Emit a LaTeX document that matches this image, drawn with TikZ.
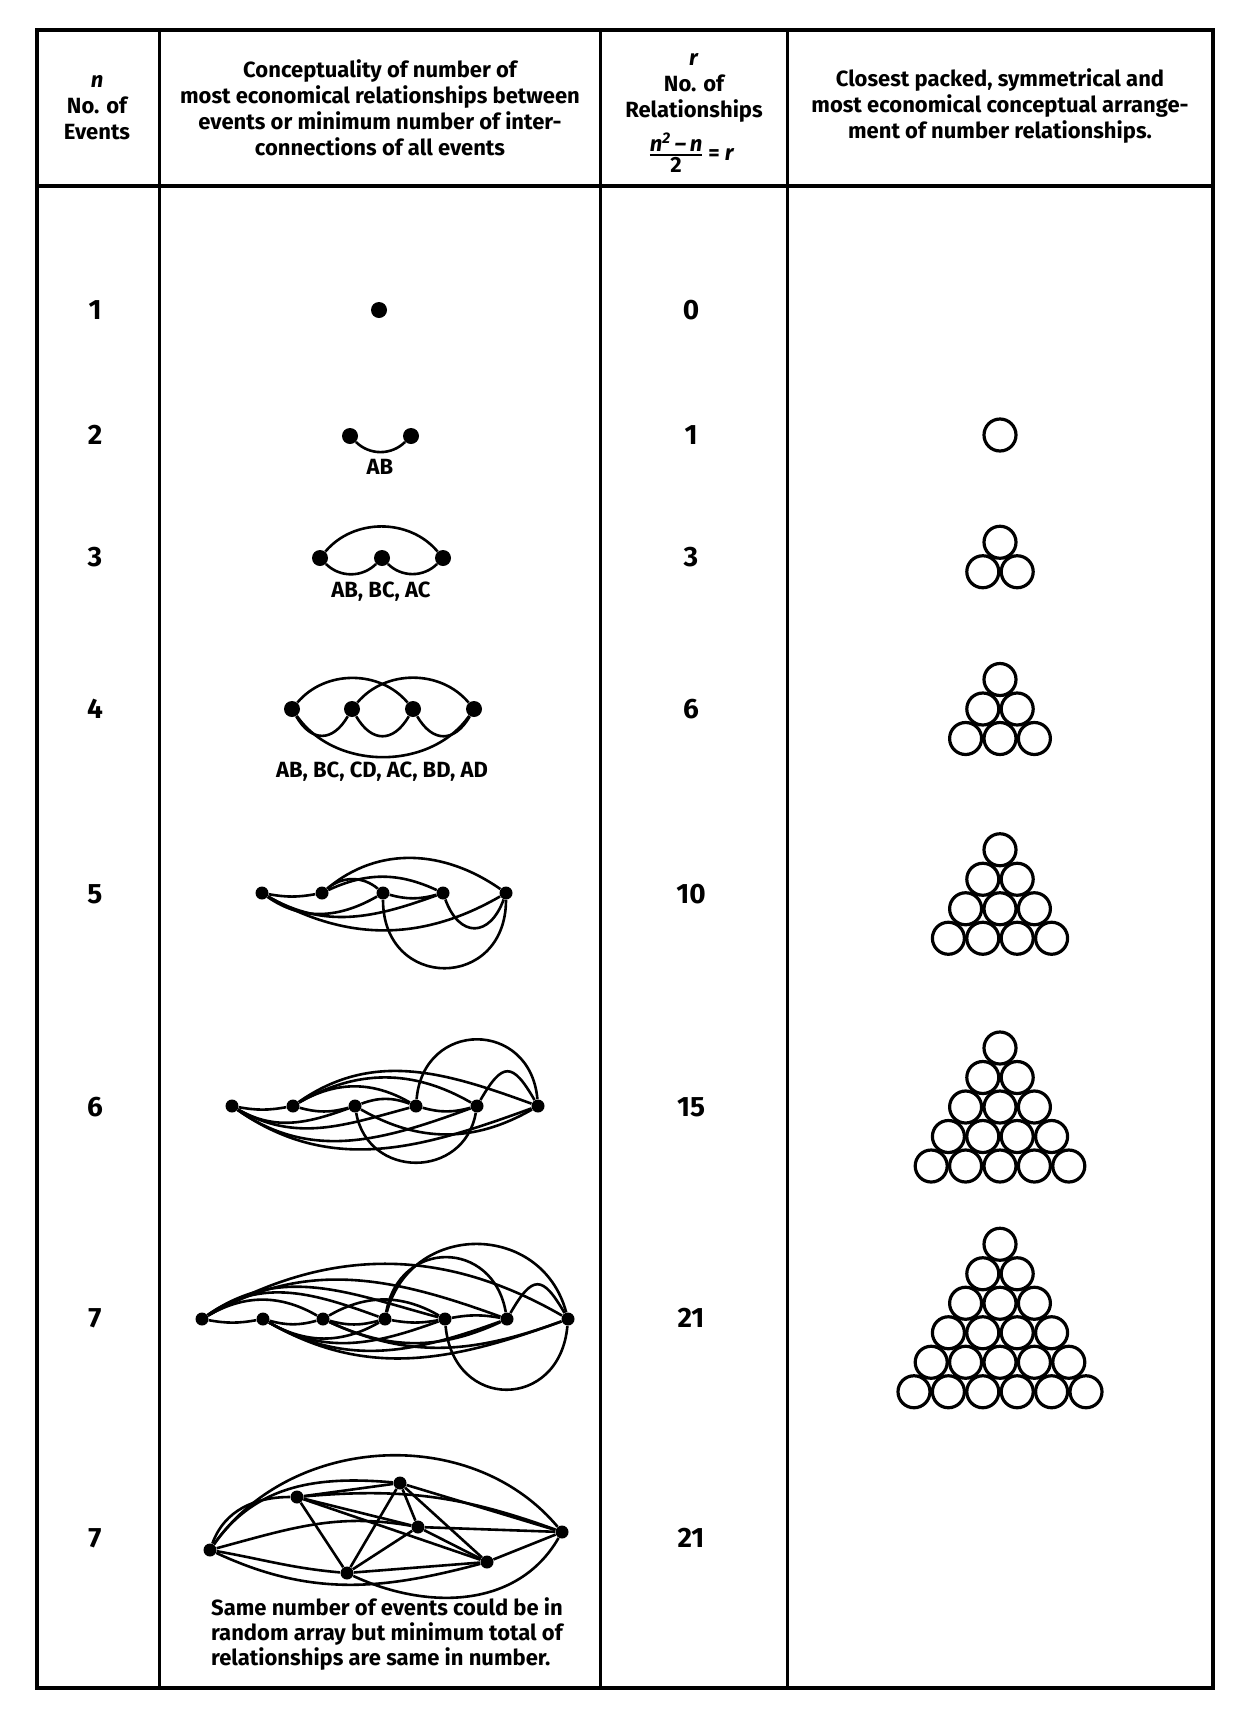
\documentclass[tikz,border=0pt]{standalone}
\usepackage{fontspec}
\setmainfont{Fira Sans}
\begin{document}
\begin{tikzpicture}
[x=0.5pt,y=0.5pt,
  eventdecorate/.style={shape=circle,fill,inner sep=0pt,minimum size=8pt},%
  smalleventdecorate/.style={shape=circle,fill,inner sep=0pt,minimum size=6.5pt},%
  linedecorate/.style={-,line width=1.3pt},%
  balldecorate/.style={shape=circle,draw,line width=1.6pt,inner sep=0pt,minimum size=16pt},%
  headdecorate/.style={font=\bfseries\fontsize{11}{13}\selectfont,align=center},%
  numdecorate/.style={font=\bfseries\fontsize{14}{17}\selectfont},%
  labeldecorate/.style={font=\bfseries\fontsize{11}{13}\selectfont},%
  notedecorate/.style={font=\bfseries\fontsize{11}{12.3}\selectfont,align=left}]
\useasboundingbox (0,0) rectangle (1234,-1719);
%%% table frame
\draw[line width=2pt] (37,-30) rectangle (1213,-1688);
\draw[line width=2pt] (37,-186) -- (1213,-186);
\draw[line width=1.5pt] (159,-30) -- (159,-1688);
\draw[line width=1.5pt] (600,-30) -- (600,-1688);
\draw[line width=1.5pt] (787,-30) -- (787,-1688);
%%% column heads
\node (h1) at (97,-108) [headdecorate] {\textit{n}\\No. of\\Events};
\node (h2) at (380,-108) [headdecorate] {Conceptuality of number of\\most economical relationships between\\events or minimum number of inter-\\connections of all events};
\node (h3) at (694,-88) [headdecorate] {\textit{r}\\No. of\\Relationships};
\node (h3f) at (691,-153) [headdecorate] {${\mbox{\itshape n\textsuperscript{2}\,--\,n}\above 1pt\mbox{2}}$\,= \textit{r}};
\node (h4) at (1000,-106) [headdecorate] {Closest packed, symmetrical and\\most economical conceptual arrange-\\ment of number relationships.};
%%% number of events n
\node (n1) at (95,-310) [numdecorate] {1};
\node (n2) at (95,-435) [numdecorate] {2};
\node (n3) at (95,-557) [numdecorate] {3};
\node (n4) at (95,-709) [numdecorate] {4};
\node (n5) at (95,-894) [numdecorate] {5};
\node (n6) at (95,-1107) [numdecorate] {6};
\node (n7) at (95,-1318) [numdecorate] {7};
\node (n8) at (95,-1538) [numdecorate] {7};
%%% number of relationships r
\node (r1) at (691,-310) [numdecorate] {0};
\node (r2) at (691,-435) [numdecorate] {1};
\node (r3) at (691,-557) [numdecorate] {3};
\node (r4) at (691,-709) [numdecorate] {6};
\node (r5) at (691,-894) [numdecorate] {10};
\node (r6) at (691,-1107) [numdecorate] {15};
\node (r7) at (691,-1318) [numdecorate] {21};
\node (r8) at (691,-1538) [numdecorate] {21};
%
%%% one event
\node (a) at (379,-310) [eventdecorate] {};
%
%%% two events
% nodes or events
\node (a) at (350,-436) [eventdecorate] {};
\node (b) at (411,-436) [eventdecorate] {};
% relationships
\path
(a) edge[linedecorate,out=-45,in=-135] (b);
\node (l2) at (380,-467) [labeldecorate] {AB};
%
%%% three events
% nodes or events
\node (a) at (320,-558) [eventdecorate] {};
\node (b) at (382,-558) [eventdecorate] {};
\node (c) at (443,-558) [eventdecorate] {};
% relationships
\path
(a) edge[linedecorate,out=-45,in=-135] (b)
(b) edge[linedecorate,out=-45,in=-135] (c)
(a) edge[linedecorate,out=50,in=130] (c);
\node (l3) at (381,-592) [labeldecorate] {AB, BC, AC};
%
%%% four events
% nodes or events
\node (a) at (292,-709) [eventdecorate] {};
\node (b) at (352,-709) [eventdecorate] {};
\node (c) at (413,-709) [eventdecorate] {};
\node (d) at (474,-709) [eventdecorate] {};
% relationships
\path
(a) edge[linedecorate,out=-60,in=-120,looseness=1.5] (b)
(b) edge[linedecorate,out=-60,in=-120,looseness=1.5] (c)
(c) edge[linedecorate,out=-60,in=-120,looseness=1.5] (d)
(a) edge[linedecorate,out=50,in=130] (c)
(b) edge[linedecorate,out=50,in=130] (d)
(a) edge[linedecorate,out=-55,in=-125] (d);
\node (l4) at (382,-772) [labeldecorate] {AB, BC, CD, AC, BD, AD};
%
%%% five events
% nodes or events
\node (a) at (262,-893) [smalleventdecorate] {};
\node (b) at (322,-893) [smalleventdecorate] {};
\node (c) at (383,-893) [smalleventdecorate] {};
\node (d) at (443,-893) [smalleventdecorate] {};
\node (e) at (506,-893) [smalleventdecorate] {};
% relationships
\path
(a) edge[linedecorate,out=-10,in=-170] (b)
(b) edge[linedecorate,out=40,in=140] (c)
(c) edge[linedecorate,out=-15,in=-165] (d)
(d) edge[linedecorate,out=-70,in=-110,looseness=1.8] (e)
(a) edge[linedecorate,out=-35,in=-150] (c)
(a) edge[linedecorate,out=-30,in=-160] (d)
(a) edge[linedecorate,out=-30,in=-150] (e)
(b) edge[linedecorate,out=25,in=155] (d)
(b) edge[linedecorate,out=40,in=145] (e)
(c) edge[linedecorate,out=-90,in=-90,looseness=1.9] (e);
%
%%% six events
% nodes or events
\node (a) at (232,-1106) [smalleventdecorate] {};
\node (b) at (293,-1106) [smalleventdecorate] {};
\node (c) at (355,-1106) [smalleventdecorate] {};
\node (d) at (416,-1106) [smalleventdecorate] {};
\node (e) at (477,-1106) [smalleventdecorate] {};
\node (f) at (538,-1106) [smalleventdecorate] {};
% relationships
\path
(a) edge[linedecorate,out=-10,in=-170] (b)
(b) edge[linedecorate,out=-15,in=-165] (c)
(c) edge[linedecorate,out=20,in=160] (d)
(d) edge[linedecorate,out=-15,in=-165] (e)
(e) edge[linedecorate,out=60,in=120,looseness=2.1] (f)
(a) edge[linedecorate,out=-30,in=-160] (c)
(b) edge[linedecorate,out=30,in=150] (d)
(c) edge[linedecorate,out=-80,in=-100,looseness=1.45] (e)
(d) edge[linedecorate,out=85,in=95,looseness=1.7] (f)
(a) edge[linedecorate,out=-30,in=-165] (d)
(b) edge[linedecorate,out=30,in=150] (e)
(c) edge[linedecorate,out=-30,in=-150] (f)
(a) edge[linedecorate,out=-35,in=-160] (e)
(b) edge[linedecorate,out=35,in=160] (f)
(a) edge[linedecorate,out=-35,in=-160] (f);
%
%%% seven events
% nodes or events
\node (a) at (202,-1319) [smalleventdecorate] {};
\node (b) at (263,-1319) [smalleventdecorate] {};
\node (c) at (323,-1319) [smalleventdecorate] {};
\node (d) at (385,-1319) [smalleventdecorate] {};
\node (e) at (445,-1319) [smalleventdecorate] {};
\node (f) at (507,-1319) [smalleventdecorate] {};
\node (g) at (568,-1319) [smalleventdecorate] {};
% relationships
\path
(a) edge[linedecorate,out=-10,in=-170] (b)
(b) edge[linedecorate,out=-15,in=-165] (c)
(c) edge[linedecorate,out=-15,in=-165] (d)
(d) edge[linedecorate,out=-10,in=-170] (e)
(e) edge[linedecorate,out=10,in=170] (f)
(f) edge[linedecorate,out=60,in=120,looseness=2.1] (g)
(a) edge[linedecorate,out=30,in=150] (c)
(b) edge[linedecorate,out=-30,in=-150] (d)
(c) edge[linedecorate,out=30,in=150] (e)
(d) edge[linedecorate,out=80,in=100,looseness=1.6] (f)
(e) edge[linedecorate,out=-85,in=-95,looseness=1.8] (g)
(a) edge[linedecorate,out=35,in=160] (d)
(b) edge[linedecorate,out=-30,in=-160] (e)
(c) edge[linedecorate,out=-25,in=-155] (f)
(d) edge[linedecorate,out=75,in=105,looseness=1.35] (g)
(a) edge[linedecorate,out=35,in=165] (e)
(b) edge[linedecorate,out=-30,in=-160] (f)
(c) edge[linedecorate,out=-25,in=-160] (g)
(a) edge[linedecorate,out=30,in=160] (f)
(b) edge[linedecorate,out=-30,in=-160] (g)
(a) edge[linedecorate,out=30,in=150] (g);
%
%%% seven events in random array
% nodes or events
\node (a) at (210,-1550) [smalleventdecorate] {};
\node (b) at (297,-1497) [smalleventdecorate] {};
\node (c) at (400,-1483) [smalleventdecorate] {};
\node (d) at (418,-1527) [smalleventdecorate] {};
\node (e) at (347,-1573) [smalleventdecorate] {};
\node (f) at (487,-1562) [smalleventdecorate] {};
\node (g) at (562,-1532) [smalleventdecorate] {};
% relationships
\path
(a) edge[linedecorate,out=70,in=180] (b)
(a) edge[linedecorate,out=55,in=175] (c)
(a) edge[linedecorate,out=15,in=170] (d)
(a) edge[linedecorate,out=-10,in=175] (e)
(a) edge[linedecorate,out=-25,in=-165] (f)
(a) edge[linedecorate,out=55,in=130] (g)
(b) edge[linedecorate] (c)
(b) edge[linedecorate] (d)
(b) edge[linedecorate] (e)
(b) edge[linedecorate] (f)
(b) edge[linedecorate,out=5,in=160] (g)
(c) edge[linedecorate] (d)
(c) edge[linedecorate] (e)
(c) edge[linedecorate] (f)
(c) edge[linedecorate] (g)
(d) edge[linedecorate] (e)
(d) edge[linedecorate] (f)
(d) edge[linedecorate] (g)
(e) edge[linedecorate] (f)
(e) edge[linedecorate,out=-25,in=-120] (g)
(f) edge[linedecorate] (g);
\node (note) at (387,-1634) [notedecorate] {Same number of events could be in\\random array but minimum total of\\relationships are same in number.};
%
%%% closest packed arrangements
% one relationship
\node (p1) at (1000,-435) [balldecorate] {};
% three relationships
\node (p2) at (1000,-542.25) [balldecorate] {};
\node (p3) at (982.8,-571.75) [balldecorate] {};
\node (p4) at (1017.2,-571.75) [balldecorate] {};
% six relationships
\node (q1) at (1000,-679.5) [balldecorate] {};
\node (q2) at (982.8,-709) [balldecorate] {};
\node (q3) at (1017.2,-709) [balldecorate] {};
\node (q4) at (965.6,-738.5) [balldecorate] {};
\node (q5) at (1000,-738.5) [balldecorate] {};
\node (q6) at (1034.4,-738.5) [balldecorate] {};
% ten relationships
\node (s1) at (1000,-849.75) [balldecorate] {};
\node (s2) at (982.8,-879.25) [balldecorate] {};
\node (s3) at (1017.2,-879.25) [balldecorate] {};
\node (s4) at (965.6,-908.75) [balldecorate] {};
\node (s5) at (1000,-908.75) [balldecorate] {};
\node (s6) at (1034.4,-908.75) [balldecorate] {};
\node (s7) at (948.4,-938.25) [balldecorate] {};
\node (s8) at (982.8,-938.25) [balldecorate] {};
\node (s9) at (1017.2,-938.25) [balldecorate] {};
\node (s10) at (1051.6,-938.25) [balldecorate] {};
% fifteen relationships
\node (t1) at (1000,-1048) [balldecorate] {};
\node (t2) at (982.8,-1077.5) [balldecorate] {};
\node (t3) at (1017.2,-1077.5) [balldecorate] {};
\node (t4) at (965.6,-1107) [balldecorate] {};
\node (t5) at (1000,-1107) [balldecorate] {};
\node (t6) at (1034.4,-1107) [balldecorate] {};
\node (t7) at (948.4,-1136.5) [balldecorate] {};
\node (t8) at (982.8,-1136.5) [balldecorate] {};
\node (t9) at (1017.2,-1136.5) [balldecorate] {};
\node (t10) at (1051.6,-1136.5) [balldecorate] {};
\node (t11) at (931.2,-1166) [balldecorate] {};
\node (t12) at (965.6,-1166) [balldecorate] {};
\node (t13) at (1000,-1166) [balldecorate] {};
\node (t14) at (1034.4,-1166) [balldecorate] {};
\node (t15) at (1068.8,-1166) [balldecorate] {};
% twenty-one relationships
\node (u1) at (1000,-1244.25) [balldecorate] {};
\node (u2) at (982.8,-1273.75) [balldecorate] {};
\node (u3) at (1017.2,-1273.75) [balldecorate] {};
\node (u4) at (965.6,-1303.25) [balldecorate] {};
\node (u5) at (1000,-1303.25) [balldecorate] {};
\node (u6) at (1034.4,-1303.25) [balldecorate] {};
\node (u7) at (948.4,-1332.75) [balldecorate] {};
\node (u8) at (982.8,-1332.75) [balldecorate] {};
\node (u9) at (1017.2,-1332.75) [balldecorate] {};
\node (u10) at (1051.6,-1332.75) [balldecorate] {};
\node (u11) at (931.2,-1362.25) [balldecorate] {};
\node (u12) at (965.6,-1362.25) [balldecorate] {};
\node (u13) at (1000,-1362.25) [balldecorate] {};
\node (u14) at (1034.4,-1362.25) [balldecorate] {};
\node (u15) at (1068.8,-1362.25) [balldecorate] {};
\node (u16) at (914,-1391.75) [balldecorate] {};
\node (u17) at (948.4,-1391.75) [balldecorate] {};
\node (u18) at (982.8,-1391.75) [balldecorate] {};
\node (u19) at (1017.2,-1391.75) [balldecorate] {};
\node (u20) at (1051.6,-1391.75) [balldecorate] {};
\node (u21) at (1086,-1391.75) [balldecorate] {};
\end{tikzpicture}
\end{document}
